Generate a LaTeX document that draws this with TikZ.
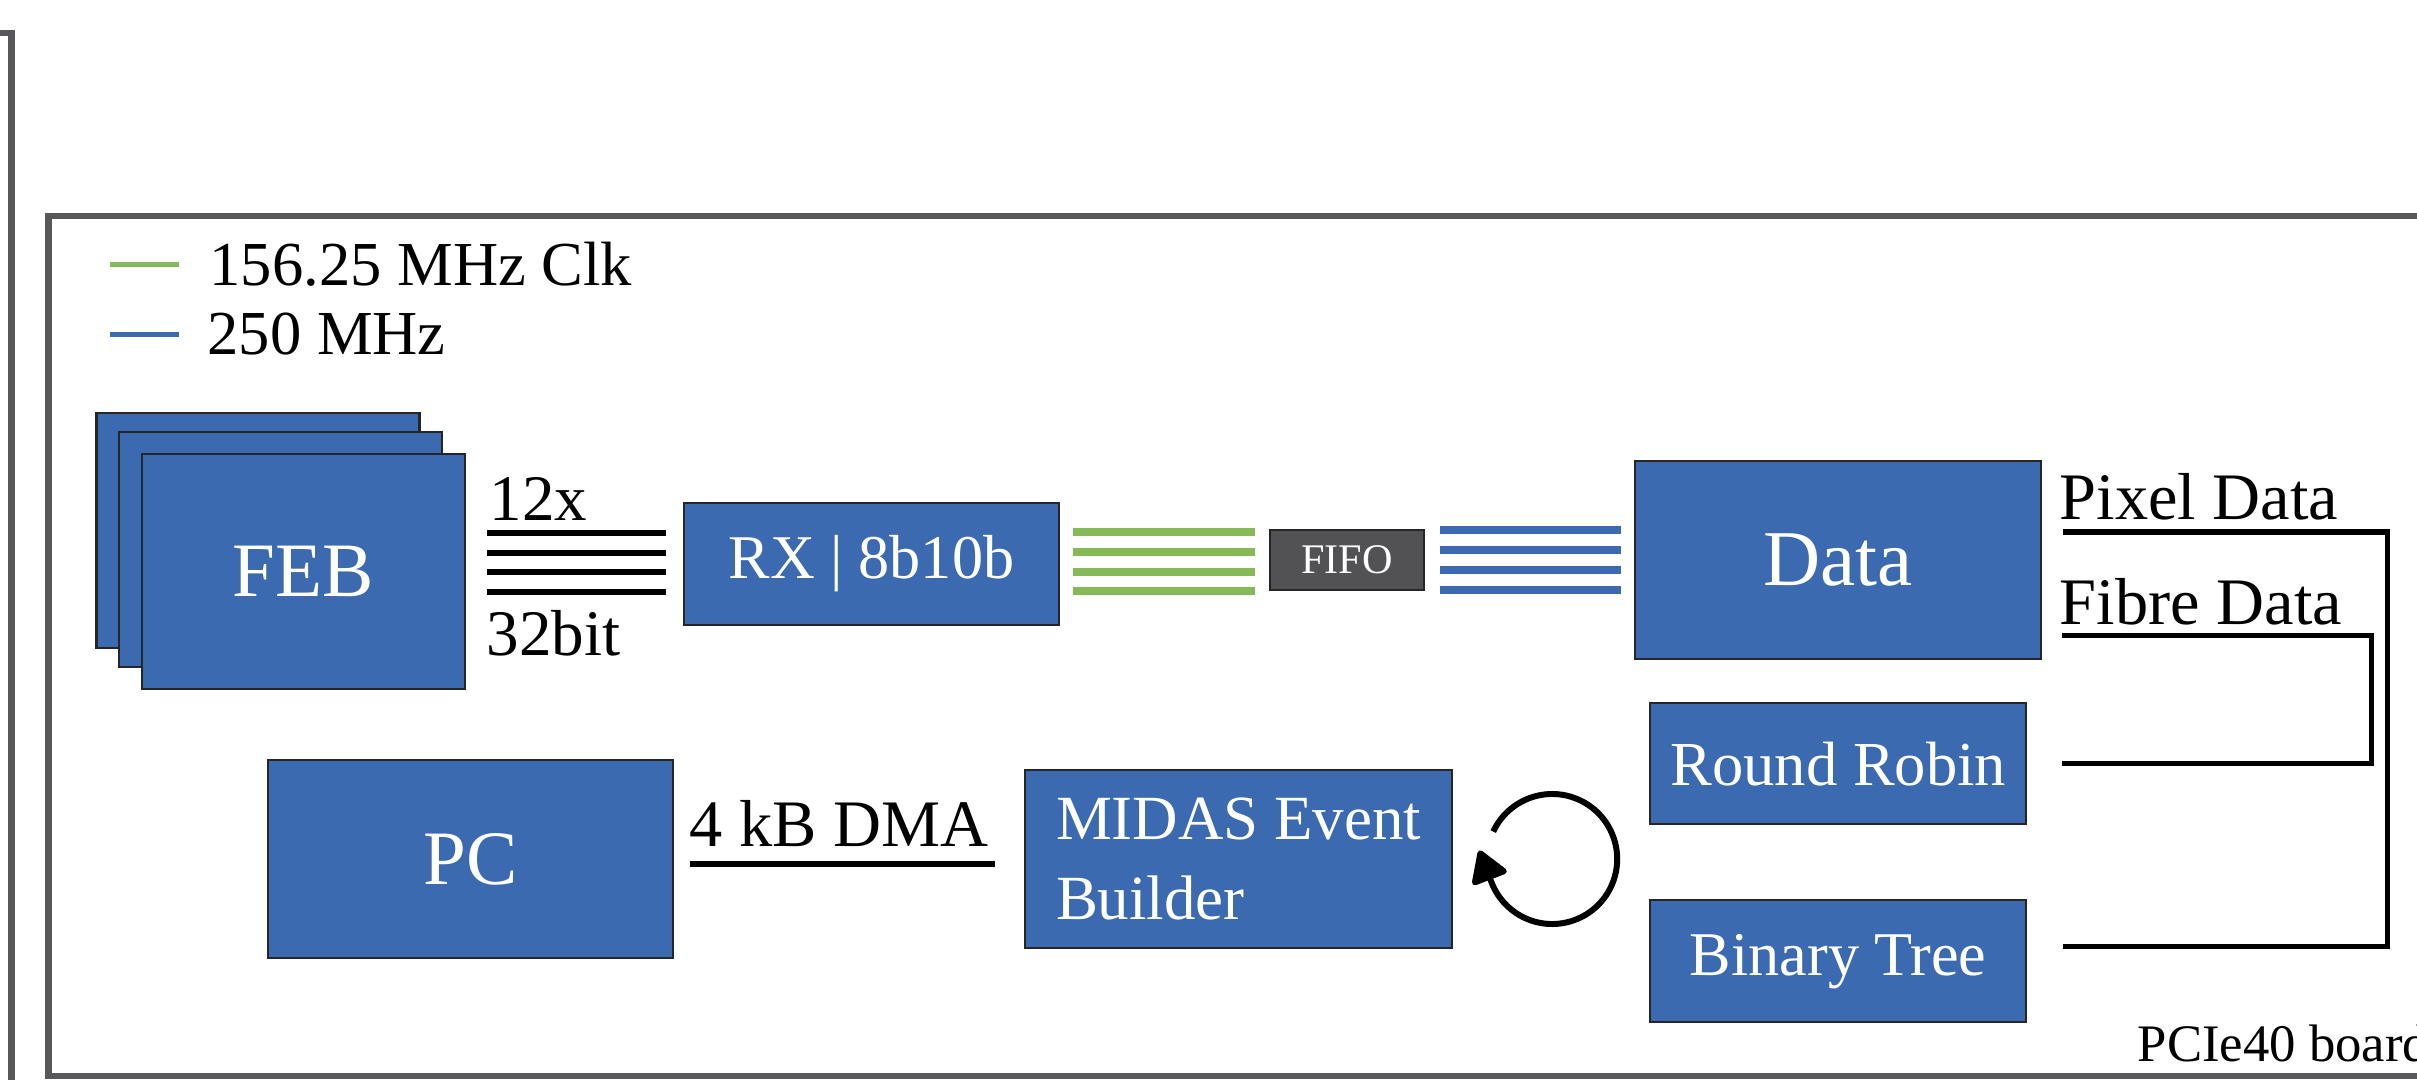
\documentclass[tikz,border=0pt]{standalone}
\usepackage{fontspec}
\setmainfont{Liberation Serif}
\usetikzlibrary{arrows.meta, positioning}
\definecolor{boxblue}{RGB}{59, 106, 176}
\definecolor{clkgreen}{RGB}{134, 186, 89}
\definecolor{framegray}{RGB}{88, 88, 91}
\definecolor{fifogray}{RGB}{82, 82, 85}

\begin{document}
\begin{tikzpicture}[
  node distance=0.5cm,
  box/.style={draw=black!85, line width=0.6pt, fill=boxblue, text=white, inner sep=0pt},
  febcard/.style={box, minimum width=3.23cm, minimum height=2.35cm},
  lbl/.style={inner sep=0pt, anchor=base west, font=\fontsize{18.9}{22}\selectfont},
  bus/.style={line width=1.7pt},
  clk/.style={clkgreen, line width=2.1pt},
  fast/.style={boxblue, line width=2.1pt},
  link/.style={line width=1.45pt},
  frame/.style={framegray, line width=1.9pt}
]
  \useasboundingbox (0,0) rectangle (24.17,10.79);

  % board frames
  \draw[frame] (-1,10.46) -| (0.115,-1);
  \draw[frame] (25,0.03) -| (0.485,8.63) -- (25,8.63);

  % legend
  \node[lbl, font=\fontsize{17.8}{21}\selectfont] (lgclk) at (2.09,7.93) {156.25 MHz Clk};
  \node[lbl, font=\fontsize{17.8}{21}\selectfont] (lgfast) at (2.07,7.24) {250 MHz};
  \draw[clk, line width=1.35pt] ([xshift=-3mm]lgclk.west) -- ++(-0.69,0);
  \draw[fast, line width=1.35pt] ([xshift=-2.8mm]lgfast.west) -- ++(-0.69,0);

  % readout chain
  \node[febcard] (feb3) at (2.58,5.485) {};
  \node[febcard] (feb2) at (2.805,5.295) {};
  \node[febcard, font=\fontsize{21.9}{26}\selectfont] (feb) at (3.035,5.075) {FEB};
  \node[box, minimum width=3.75cm, minimum height=1.22cm, font=\fontsize{17.7}{21}\selectfont] (rx) at (8.715,5.15) {RX | 8b10b};
  \node[box, fill=fifogray, minimum width=1.54cm, minimum height=0.6cm, font=\fontsize{12}{14}\selectfont,
        right=2.09cm of rx, yshift=0.4mm] (fifo) {FIFO};
  \node[box, minimum width=4.06cm, minimum height=1.98cm, font=\fontsize{22.5}{26}\selectfont,
        right=2.09cm of fifo] (data) {Data};
  \node[box, minimum width=3.76cm, minimum height=1.21cm, font=\fontsize{17.8}{21}\selectfont,
        below=0.42cm of data] (rr) {Round Robin};
  \node[box, minimum width=3.76cm, minimum height=1.22cm, font=\fontsize{17.7}{21}\selectfont,
        below=0.74cm of rr] (bt) {Binary Tree};

  \node[lbl, font=\fontsize{18.5}{22}\selectfont] (nlinks) at (4.89,5.59) {12x};
  \node[lbl, font=\fontsize{18.5}{22}\selectfont] (nbits) at (4.86,4.24) {32bit};

  \foreach \dy in {0.31,0.11,-0.08,-0.28}
    \draw[bus, shorten <=2.1mm, shorten >=1.7mm] ([yshift=\dy cm]rx.west -| feb.east) -- ([yshift=\dy cm]rx.west);
  \foreach \dy in {0.32,0.12,-0.08,-0.27}
    \draw[clk, shorten <=1.3mm, shorten >=1.4mm] ([yshift=\dy cm]rx.east) -- ([yshift=\dy cm]rx.east -| fifo.west);
  \foreach \dy in {0.30,0.10,-0.10,-0.30}
    \draw[fast, shorten <=1.5mm, shorten >=1.3mm] ([yshift=\dy cm]fifo.east) -- ([yshift=\dy cm]fifo.east -| data.west);

  % merging
  \node[lbl] (pixlbl) at (20.59,5.60) {Pixel Data};
  \node[lbl] (fiblbl) at (20.59,4.55) {Fibre Data};
  \draw[link] ([xshift=2.1mm,yshift=2.8mm]data.east) -- ++(3.24,0) |- ([xshift=3.6mm,yshift=1.5mm]bt.east);
  \draw[link] ([xshift=2mm,yshift=2.5mm]data.south east) -- ++(3.09,0) |- ([xshift=3.5mm]rr.east);

  % event building
  \node[box, minimum width=4.05cm, minimum height=1.98cm, font=\fontsize{21.9}{26}\selectfont] (pc) at (4.705,2.2) {PC};
  \node[box, minimum width=4.27cm, minimum height=1.78cm, align=left,
        font=\fontsize{17.9}{22.5}\selectfont, right=3.5cm of pc] (midas) {MIDAS Event\\Builder};
  \node[lbl] (dmalbl) at (6.89,2.33) {4 kB DMA};
  \draw[link] ([xshift=1.6mm,yshift=-0.5mm]pc.east) -- ([xshift=-2.9mm,yshift=-0.5mm]pc.east -| midas.west);

  \coordinate[right=0.99cm of midas.east] (loopc);
  \draw[line width=1.7pt, -{Triangle[length=3.4mm, width=4mm, round]}]
    ([shift={(155:0.65)}]loopc) arc[start angle=155, end angle=-159, radius=0.65] -- ++(111:0.34);

  \node[lbl, font=\fontsize{15}{18}\selectfont] (boardlbl) at (21.37,0.18) {PCIe40 board};
\end{tikzpicture}
\end{document}
